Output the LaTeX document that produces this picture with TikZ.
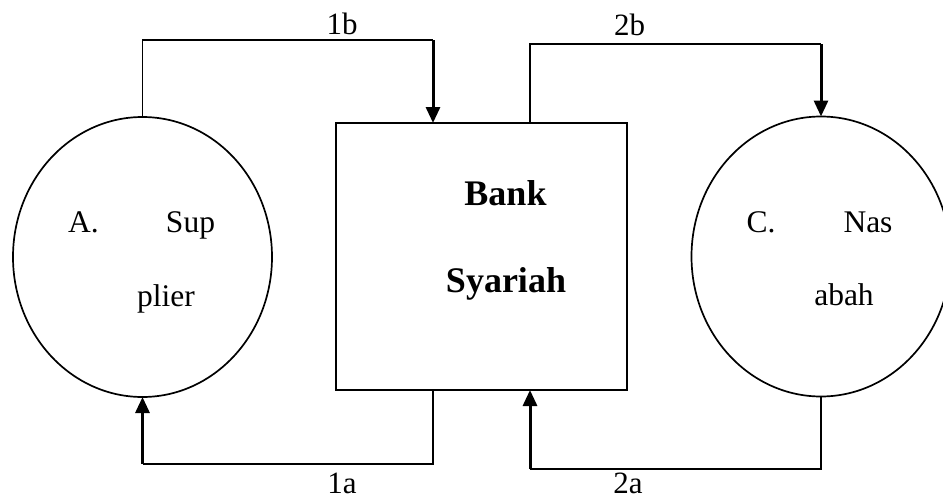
\documentclass[tikz,border=0pt]{standalone}
\usepackage{fontspec}
\setmainfont{Liberation Serif}
\usetikzlibrary{shapes.geometric,arrows.meta}
\begin{document}
\begin{tikzpicture}[x=1pt,y=-1pt,
  party/.style={draw,ellipse,line width=1.7pt,minimum width=259pt,minimum height=280pt,outer sep=0pt,inner sep=0pt},
  bankbox/.style={draw,rectangle,line width=1.8pt,minimum width=291pt,minimum height=267pt,outer sep=0pt,inner sep=0pt},
  flow/.style={line width=1.9pt},
  flowtip/.style={line width=3pt,-{Triangle[width=14pt,length=16pt]}},
  plain/.style={font=\fontsize{31.5}{36}\selectfont,inner sep=0pt,anchor=base},
  strong/.style={font=\fontsize{36}{42}\selectfont\bfseries,inner sep=0pt,anchor=base},
  tag/.style={font=\fontsize{31}{36}\selectfont,inner sep=0pt,anchor=base}]
\useasboundingbox (0,0) rectangle (943,498);
\clip (0,0) rectangle (943,498);

% the three parties
\node[party] (sup) at (142.5,257) {};
\node[bankbox] (bank) at (481.5,256.5) {};
\node[party] (nas) at (821,256.5) {};

% texts inside the shapes (baseline positions)
\node[plain] (ta) at (83.5,232) {A.};
\node[plain] (tsup) at (190.5,232) {Sup};
\node[plain] (tplier) at (166,306) {plier};
\node[strong] (tbank) at (505.5,205) {Bank};
\node[strong] (tsyar) at (506,292) {Syariah};
\node[plain] (tc) at (761,232) {C.};
\node[plain] (tnas) at (868,232) {Nas};
\node[plain] (tabah) at (844,305) {abah};

% corners of the connectors
\coordinate (c1b) at (433,40);
\coordinate (c2b) at (530,44);
\coordinate (c1a) at (433,464);
\coordinate (c2a) at (530,469);

% 1b: supplier -> bank (top)
\draw[flow] (sup.north) |- (c1b);
\draw[flowtip] (c1b) -- (c1b |- bank.north);
% 2b: bank -> nasabah (top)
\draw[flow] (c2b |- bank.north) -- (c2b) -| (nas.north |- c2b);
\draw[flowtip] (nas.north |- c2b) -- (nas.north);
% 1a: bank -> supplier (bottom)
\draw[flow] (c1a |- bank.south) -- (c1a) -| (sup.south |- c1a);
\draw[flowtip] (sup.south |- c1a) -- (sup.south);
% 2a: nasabah -> bank (bottom)
\draw[flow] (nas.south) |- (c2a);
\draw[flowtip] (c2a) -- (c2a |- bank.south);

% flow labels (baseline positions)
\node[tag] (l1b) at (342,34) {1b};
\node[tag] (l2b) at (629.5,35) {2b};
\node[tag] (l1a) at (342,493) {1a};
\node[tag] (l2a) at (628,493) {2a};
\end{tikzpicture}
\end{document}
